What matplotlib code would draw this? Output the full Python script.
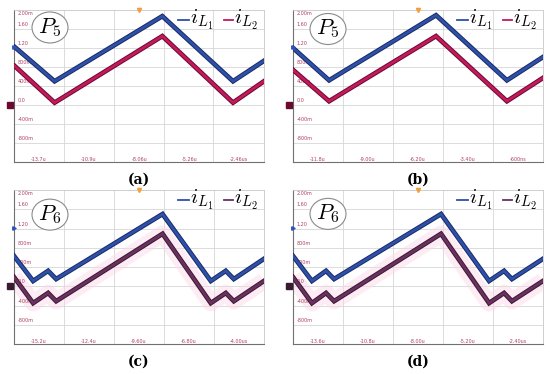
import matplotlib
matplotlib.use("Agg")
import matplotlib.pyplot as plt
from matplotlib.patches import Ellipse

plt.rcParams['mathtext.fontset'] = 'cm'

t_a = [-15.06, -12.82, -6.77, -2.80, -1.06]
iL1_a = [1.22, 0.50, 1.87, 0.50, 0.93]
iL2_a = [0.82, 0.05, 1.45, 0.05, 0.50]

t_b = [-13.2, -11.18, -5.19, -1.22, 0.8]
iL1_b = [1.20, 0.52, 1.89, 0.52, 1.01]
iL2_b = [0.74, 0.08, 1.45, 0.08, 0.57]

t_c = [-16.6, -15.53, -14.69, -14.24, -8.28, -5.58, -4.74, -4.29, -2.6]
iL1_c = [0.63, 0.11, 0.32, 0.15, 1.50, 0.11, 0.32, 0.15, 0.57]
iL2_c = [0.19, -0.35, -0.14, -0.31, 1.09, -0.35, -0.14, -0.31, 0.11]

t_d = [-15.0, -13.94, -13.15, -12.70, -6.71, -4.02, -3.18, -2.74, -1.0]
iL1_d = [0.63, 0.11, 0.32, 0.15, 1.50, 0.11, 0.32, 0.15, 0.57]
iL2_d = [0.19, -0.35, -0.14, -0.31, 1.09, -0.35, -0.14, -0.31, 0.11]

# scope time-axis annotations
xticks_a = [-13.7, -10.9, -8.06, -5.26, -2.46]
xlabels_a = ["-13.7u", "-10.9u", "-8.06u", "-5.26u", "-2.46us"]
xticks_b = [-11.8, -9.0, -6.2, -3.4, -0.6]
xlabels_b = ["-11.8u", "-9.00u", "-6.20u", "-3.40u", "-600ns"]
xticks_c = [-15.2, -12.4, -9.6, -6.8, -4.0]
xlabels_c = ["-15.2u", "-12.4u", "-9.60u", "-6.80u", "-4.00us"]
xticks_d = [-13.6, -10.8, -8.0, -5.2, -2.4]
xlabels_d = ["-13.6u", "-10.8u", "-8.00u", "-5.20u", "-2.40us"]

yticks = [2.0, 1.6, 1.2, 0.8, 0.4, 0.0, -0.4, -0.8]
ylabels = ["2.00m", "1.60", "1.20", "800m", "400m", "0.0", "-400m", "-800m"]

W, H = 550, 374
fig = plt.figure(figsize=(5.5, 3.74), dpi=100)


def draw_panel(rect, t, i1, i2, xticks, xlabels, pname, tag, red_core, red_edge,
               circ_xy, glow=False):
    ax = fig.add_axes(rect)
    x0 = xticks[0] - 1.4
    x1 = xticks[-1] + 1.4
    ax.set_xlim(x0, x1)
    ax.set_ylim(-1.2, 2.0)
    ax.set_xticks([])
    ax.set_yticks([])

    # grid
    for k in range(1, 5):
        ax.axvline(x0 + 2.8 * k, color='#d6d6d6', lw=0.6, zorder=0)
    for y in yticks[1:]:
        ax.axhline(y, color='#d6d6d6', lw=0.6, zorder=0)

    for s in ['top', 'right']:
        ax.spines[s].set_color('#c8c8c8')
        ax.spines[s].set_linewidth(0.6)
    for s in ['left', 'bottom']:
        ax.spines[s].set_color('#707070')
        ax.spines[s].set_linewidth(0.8)

    # tick annotations inside the screen
    for y, lab in zip(yticks, ylabels):
        yy = 1.93 if y == 2.0 else y + 0.04
        ax.text(x0 + 0.2, yy, lab, fontsize=3.5, color='#b04060',
                va='bottom' if y != 2.0 else 'center', ha='left')
    for x, lab in zip(xticks, xlabels):
        ax.text(x, -1.19, lab, fontsize=3.5, color='#b04060', ha='center', va='bottom')

    # traces
    if glow:
        ax.plot(t, i2, color='#fbd6e8', lw=12, alpha=0.45, solid_capstyle='butt', zorder=1)
    ax.plot(t, i1, color='#1b2a66', lw=3.4, zorder=3, solid_joinstyle='miter')
    ax.plot(t, i1, color='#2d50a8', lw=2.0, zorder=4, solid_joinstyle='miter')
    ax.plot(t, i2, color=red_edge, lw=3.4, zorder=3, solid_joinstyle='miter')
    ax.plot(t, i2, color=red_core, lw=2.0, zorder=4, solid_joinstyle='miter')

    # channel markers
    ax.plot([x0 - 0.25], [0.0], marker='s', ms=4.5, color=red_edge, clip_on=False, zorder=6)
    ax.plot([x0], [1.22], marker='>', ms=2.5, color='#3050c0', clip_on=False, zorder=6)
    ax.plot([(x0 + x1) / 2], [2.0], marker='v', ms=3, color='#f0a040', clip_on=False, zorder=6)

    # legend
    ly = 0.935
    ax.plot([0.656, 0.70], [ly, ly], color='#2d50a8', lw=1.3, transform=ax.transAxes,
            clip_on=False, zorder=7)
    ax.text(0.704, ly, r'$i_{L_1}$', fontsize=15, transform=ax.transAxes,
            va='center', ha='left', zorder=7)
    ax.plot([0.84, 0.876], [ly, ly], color=red_core, lw=1.3, transform=ax.transAxes,
            clip_on=False, zorder=7)
    ax.text(0.88, ly, r'$i_{L_2}$', fontsize=15, transform=ax.transAxes,
            va='center', ha='left', zorder=7)

    # mode label in a circle
    cx, cy = circ_xy
    ax.add_patch(Ellipse((cx, cy), 36 / 250, 31 / (rect[3] * H), transform=ax.transAxes,
                         facecolor='white', edgecolor='#8a8a8a', lw=0.8, zorder=8))
    ax.text(cx, cy, pname, fontsize=16, transform=ax.transAxes, ha='center',
            va='center', zorder=9)

    # subfigure tag
    fig.text(rect[0] + rect[2] / 2, rect[1] - 18 / H, tag, fontsize=10,
             fontweight='bold', family='DejaVu Serif', ha='center', va='center')
    return ax


top_rect_h = 152 / H
bot_rect_h = 154 / H
draw_panel([14 / W, 1 - 162 / H, 250 / W, top_rect_h], t_a, iL1_a, iL2_a, xticks_a, xlabels_a,
           r'$P_5$', '(a)', '#c4195c', '#6a0a30', (0.144, 0.885))
draw_panel([293 / W, 1 - 162 / H, 250 / W, top_rect_h], t_b, iL1_b, iL2_b, xticks_b, xlabels_b,
           r'$P_5$', '(b)', '#c4195c', '#6a0a30', (0.14, 0.875))
draw_panel([14 / W, 1 - 344 / H, 250 / W, bot_rect_h], t_c, iL1_c, iL2_c, xticks_c, xlabels_c,
           r'$P_6$', '(c)', '#6a3060', '#3a1a30', (0.144, 0.84), glow=True)
draw_panel([293 / W, 1 - 344 / H, 250 / W, bot_rect_h], t_d, iL1_d, iL2_d, xticks_d, xlabels_d,
           r'$P_6$', '(d)', '#6a3060', '#3a1a30', (0.14, 0.845), glow=True)

fig.savefig('out.png', dpi=100)
